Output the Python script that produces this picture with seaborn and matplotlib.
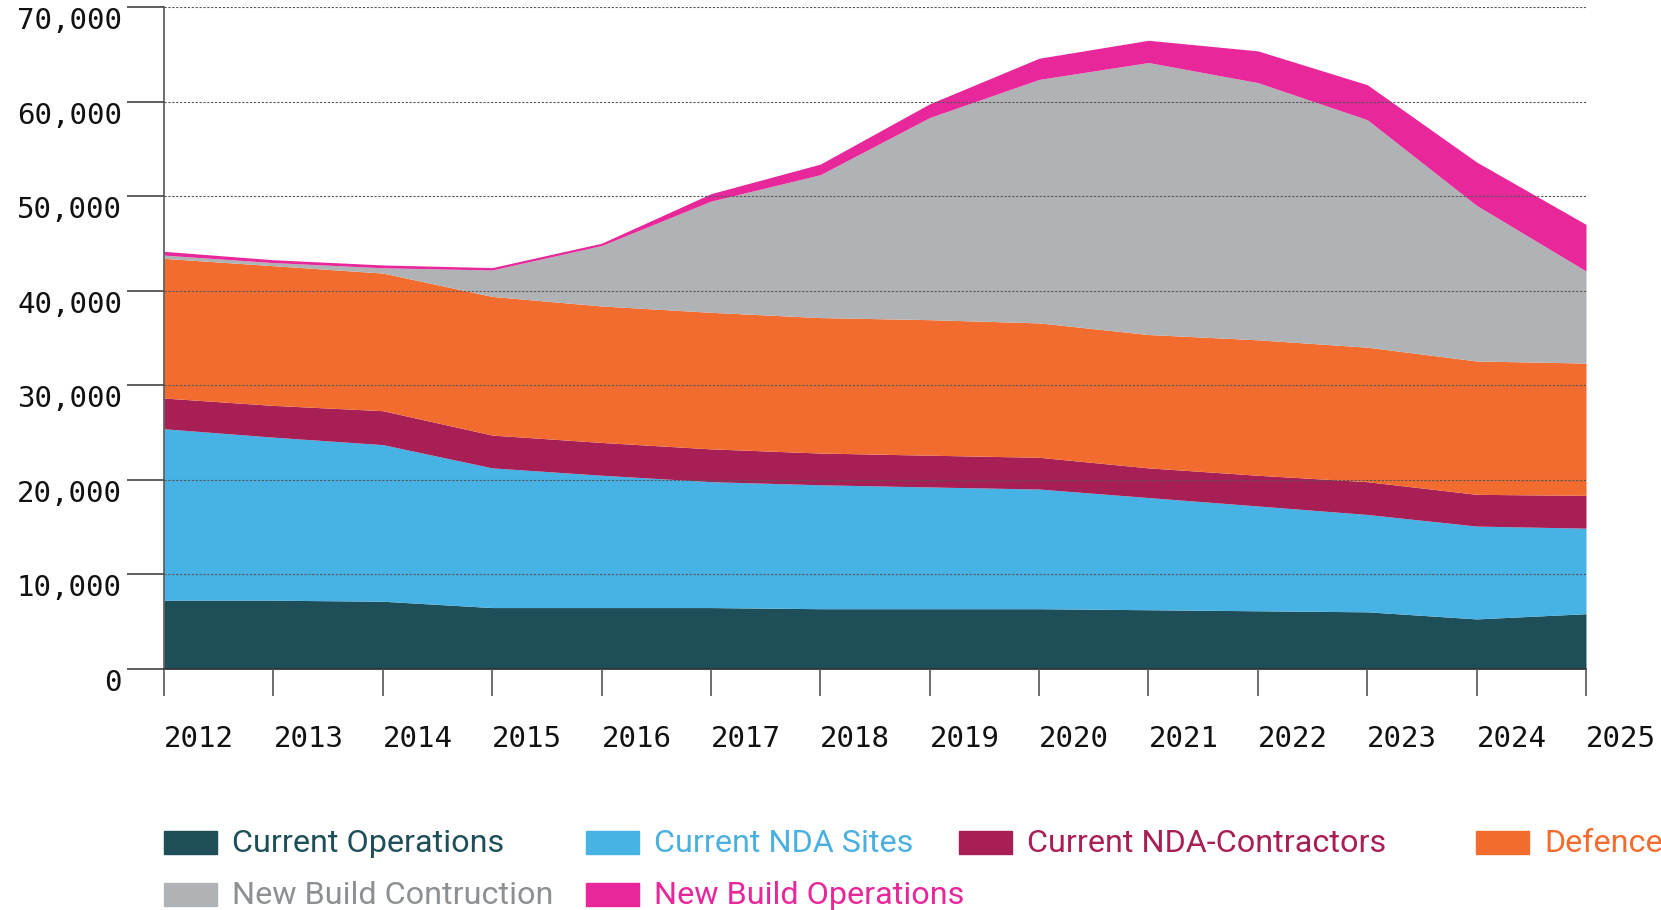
import numpy as np
import matplotlib
matplotlib.use("Agg")
import matplotlib.pyplot as plt
import matplotlib.transforms as mtransforms
from matplotlib.patches import Rectangle
from matplotlib.ticker import FuncFormatter
import seaborn as sns

years = list(range(2012, 2026))

current_operations = [7280, 7280, 7170, 6500, 6500, 6500, 6380, 6380, 6380, 6270, 6160, 6050, 5300, 5850]
current_nda_sites = [18140, 17250, 16570, 14780, 14000, 13320, 13110, 12880, 12660, 11870, 11090, 10300, 9820, 9050]
current_nda_contractors = [3250, 3360, 3590, 3470, 3470, 3470, 3360, 3360, 3360, 3140, 3250, 3470, 3360, 3470]
defence = [14780, 14780, 14560, 14670, 14440, 14450, 14330, 14340, 14220, 14110, 14330, 14230, 14110, 14000]
new_build_construction = [340, 330, 560, 2800, 6390, 11760, 15120, 21390, 25760, 28780, 27210, 24070, 16460, 9740]
new_build_operations = [400, 300, 300, 250, 250, 790, 1120, 1450, 2240, 2350, 3360, 3700, 4590, 4930]

labels = ["Current Operations", "Current NDA Sites", "Current NDA-Contractors",
          "Defence", "New Build Contruction", "New Build Operations"]
colors = ["#1E4F59", "#47B2E4", "#A81F56", "#F26C30", "#B0B3B5", "#E7279A"]
text_colors = ["#1E4F59", "#4AB0E0", "#A81F56", "#F26C30", "#8C9093", "#E7279A"]

sns.set_theme(style="white")
plt.rcParams["font.family"] = ["DejaVu Sans Mono", "DejaVu Sans"]

W, H = 1661, 910
fig = plt.figure(figsize=(W / 100, H / 100), dpi=100)
ax = fig.add_axes([164 / W, 1 - 669 / H, (1586 - 164) / W, (669 - 7.4) / H])

ax.stackplot(years, current_operations, current_nda_sites, current_nda_contractors,
             defence, new_build_construction, new_build_operations,
             colors=colors, linewidth=0, labels=labels)

ax.set_xlim(2012, 2025)
ax.set_ylim(0, 70000)
ax.set_xticks(years)
ax.set_yticks(range(0, 70001, 10000))
ax.yaxis.set_major_formatter(FuncFormatter(lambda v, p: f"{int(v):,}"))

ax.set_axisbelow(False)
ax.grid(axis="y", linestyle=(0, (2, 1.5)), color="#555555", linewidth=0.8)
ax.grid(axis="x", visible=False)

for s in ["top", "right"]:
    ax.spines[s].set_visible(False)
ax.spines["left"].set_color("#555555")
ax.spines["left"].set_linewidth(1.2)
ax.spines["bottom"].set_color("#333333")
ax.spines["bottom"].set_linewidth(1.2)

ax.tick_params(axis="y", left=True, length=26.6, width=1.2, color="#444444",
               pad=3.6, labelsize=21, labelcolor="#111111")
ax.tick_params(axis="x", bottom=True, length=19.5, width=1.2, color="#555555",
               pad=21, labelsize=21, labelcolor="#111111")

offset = mtransforms.ScaledTranslation(0, -11 / 100, fig.dpi_scale_trans)
for lab in ax.get_yticklabels():
    lab.set_transform(lab.get_transform() + offset)
for lab in ax.get_xticklabels():
    lab.set_horizontalalignment("left")

# legend laid out by hand, two rows like the original
legend_pos = [(164, 842), (586, 842), (959, 842), (1476, 842), (164, 894), (586, 894)]
for (px, py), lab, col, tcol in zip(legend_pos, labels, colors, text_colors):
    fig.patches.append(Rectangle((px / W, 1 - (py + 11.5) / H), 53 / W, 23 / H,
                                 transform=fig.transFigure, color=col))
    fig.text((px + 68) / W, 1 - (py + 2) / H, lab, color=tcol, fontsize=23.3,
             va="center", ha="left", family=["Roboto"])

fig.savefig("out.png", dpi=100)
